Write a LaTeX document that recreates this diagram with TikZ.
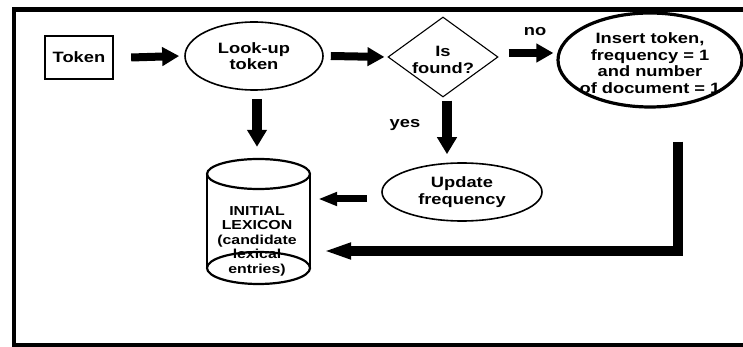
\documentclass[tikz,border=0pt]{standalone}
\usepackage{fontspec}
\setmainfont{Liberation Sans Bold}[FakeStretch=1.22]
\usetikzlibrary{shapes.geometric,arrows.meta}
\begin{document}
\begin{tikzpicture}[x=1pt,y=-1pt,
  every node/.style={font=\fontsize{15}{16.5}\selectfont, align=center, inner sep=0pt},
  box/.style={draw, line width=2.3pt, rectangle, minimum width=68pt, minimum height=43pt},
  oval/.style={draw, ellipse, line width=1.6pt},
  decision/.style={draw, diamond, line width=1.1pt, minimum width=110pt, minimum height=80pt},
  harr/.style={line width=8pt, -{Triangle[length=17pt,width=18pt]}},
  varr/.style={line width=10pt, -{Triangle[length=17pt,width=19pt]}},
  smallarr/.style={line width=7pt, -{Triangle[length=19pt,width=13pt]}},
  bigarr/.style={line width=10pt, line join=miter, -{Triangle[length=28pt,width=15pt]}},
  lbl/.style={font=\fontsize{15}{16.5}\selectfont}
]
\useasboundingbox (0,0) rectangle (743,347);
\clip (0,0) rectangle (743,347);
% frame
\draw[line width=4.3pt] (760,9.5) -- (14,9.5) -- (14,345) -- (760,345);

% nodes
\node[box] (token) at (79,57.5) {Token};
\node[oval, minimum width=138pt, minimum height=68pt] (lookup) at (254,56) {};
\node (lookuptext) at (lookup.center) {Look-up\\token};
\node[decision] (found) at (443,57) {};
\node (foundtext) at (443,60) {Is\\found?};
\node[oval, line width=3.2pt, minimum width=184pt, minimum height=94pt] (insert) at (650,60) {};
\node (inserttext) at (650,63) {Insert token,\\frequency = 1\\and number\\of document = 1};
\node[oval, minimum width=160pt, minimum height=58pt] (update) at (462,192) {};
\node (updatetext) at (update.center) {Update\\frequency};

% cylinder
\node[minimum width=103pt, minimum height=125pt] (lexicon) at (258.5,221.5) {};
\begin{scope}[line width=2.2pt]
  \draw (258.5,174) ellipse [x radius=51.5, y radius=15];
  \draw (258.5,268) ellipse [x radius=51.5, y radius=16];
  \draw (207,174) -- (207,268);
  \draw (310,174) -- (310,268);
\end{scope}
\node[font=\fontsize{13}{14.5}\selectfont] (lexicontext) at (257,241) {INITIAL\\LEXICON\\(candidate\\lexical\\entries)};

% labels
\node[lbl] (no) at (535,32) {no};
\node[lbl] (yes) at (405,125) {yes};

% arrows
\draw[harr] ([xshift=17pt]token.east) -- ([xshift=-5pt]lookup.west);
\draw[harr] ([xshift=7pt]lookup.east) -- ([xshift=-3pt]found.west);
\draw[harr] ([xshift=10pt,yshift=4pt]found.east) -- ([xshift=-3pt,yshift=4pt]found.east -| insert.west);
\draw[varr] ([xshift=4pt,yshift=-3pt]found.south) -- ([xshift=4pt,yshift=8pt]found.south |- update.north);
\draw[varr] ([xshift=3pt,yshift=-8pt]lookup.south) -- ([xshift=3pt,yshift=12pt]lookup.south |- lexicon.north);
\draw[smallarr] ([xshift=-14pt,yshift=-7pt]update.west) -- ([xshift=8pt,yshift=-7pt]update.west -| lexicon.east);
\draw[bigarr] ([xshift=28pt,yshift=-33pt]insert.south) |- ([xshift=13pt,yshift=-29.5pt]lexicon.east);
\end{tikzpicture}
\end{document}
